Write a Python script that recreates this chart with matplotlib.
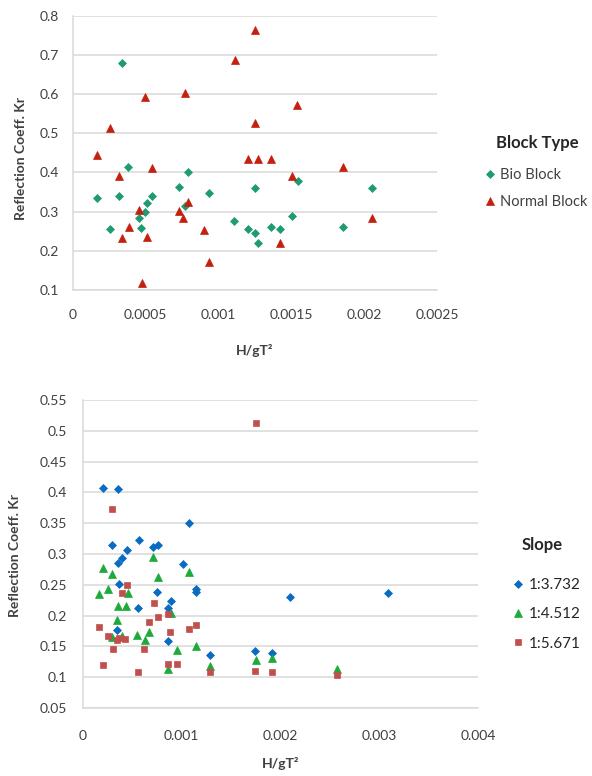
import matplotlib
matplotlib.use("Agg")
import matplotlib.pyplot as plt

plt.rcParams['font.family'] = ['Lato', 'DejaVu Sans']

# Top chart: Block type
bio_x = [0.000335, 0.00038, 0.000789, 0.000163, 0.000316, 0.000541, 0.000511, 0.000731, 0.000935,
         0.001252, 0.000766, 0.000495, 0.000454, 0.000254, 0.000468, 0.001107, 0.0012, 0.001252,
         0.00127, 0.001543, 0.002054, 0.001504, 0.00136, 0.001424, 0.001855]
bio_y = [0.68, 0.415, 0.402, 0.334, 0.341, 0.34, 0.321, 0.364, 0.348,
         0.36, 0.315, 0.298, 0.283, 0.255, 0.257, 0.277, 0.256, 0.245,
         0.219, 0.379, 0.36, 0.289, 0.26, 0.256, 0.262]

normal_x = [0.00125, 0.00111, 0.000495, 0.00077, 0.000254, 0.001247, 0.000163, 0.0012, 0.00127,
            0.00136, 0.000541, 0.000316, 0.000789, 0.000454, 0.000729, 0.000754, 0.000385, 0.000903,
            0.000339, 0.000511, 0.000935, 0.000472, 0.001538, 0.001855, 0.001504, 0.002054, 0.001424]
normal_y = [0.763, 0.687, 0.592, 0.602, 0.514, 0.525, 0.445, 0.434, 0.434,
            0.434, 0.411, 0.392, 0.325, 0.304, 0.302, 0.283, 0.262, 0.252,
            0.232, 0.234, 0.171, 0.117, 0.571, 0.415, 0.392, 0.285, 0.219]

top_xticks = [0, 0.0005, 0.001, 0.0015, 0.002, 0.0025]
top_xlabels = ['0', '0.0005', '0.001', '0.0015', '0.002', '0.0025']
top_yticks = [0.1, 0.2, 0.3, 0.4, 0.5, 0.6, 0.7, 0.8]
top_ylabels = ['0.1', '0.2', '0.3', '0.4', '0.5', '0.6', '0.7', '0.8']

# Bottom chart: slope
s1_x = [0.000208, 0.00036, 0.001077, 0.000293, 0.000572, 0.000444, 0.000707, 0.000764, 0.000394,
        0.00036, 0.001016, 0.000367, 0.000754, 0.001144, 0.00115, 0.000556, 0.000889, 0.000865,
        0.00035, 0.000862, 0.001293, 0.0021, 0.003087, 0.001747, 0.001919]
s1_y = [0.407, 0.406, 0.351, 0.314, 0.322, 0.307, 0.311, 0.314, 0.293,
        0.286, 0.283, 0.251, 0.238, 0.243, 0.239, 0.213, 0.223, 0.212,
        0.176, 0.159, 0.136, 0.23, 0.237, 0.143, 0.139]

s2_x = [0.000712, 0.000208, 0.000293, 0.000764, 0.001077, 0.000259, 0.000165, 0.000455, 0.00036,
        0.000434, 0.00035, 0.000552, 0.000673, 0.000629, 0.000299, 0.000394, 0.000889, 0.000956,
        0.001144, 0.001293, 0.000865, 0.001757, 0.001919, 0.002572]
s2_y = [0.295, 0.277, 0.267, 0.263, 0.271, 0.243, 0.235, 0.236, 0.216,
        0.215, 0.193, 0.169, 0.174, 0.16, 0.166, 0.167, 0.204, 0.144,
        0.151, 0.118, 0.114, 0.128, 0.131, 0.114]

s3_x = [0.000293, 0.001757, 0.000444, 0.0004, 0.00072, 0.000758, 0.000865, 0.000673, 0.000165,
        0.001077, 0.001144, 0.000882, 0.000252, 0.00035, 0.000367, 0.000427, 0.000303, 0.000622,
        0.000208, 0.000556, 0.000865, 0.000956, 0.001293, 0.00174, 0.001916, 0.002572]
s3_y = [0.373, 0.512, 0.25, 0.236, 0.221, 0.198, 0.202, 0.189, 0.181,
        0.179, 0.184, 0.174, 0.167, 0.16, 0.163, 0.162, 0.145, 0.145,
        0.119, 0.109, 0.121, 0.121, 0.109, 0.11, 0.109, 0.104]

bot_xticks = [0, 0.001, 0.002, 0.003, 0.004]
bot_xlabels = ['0', '0.001', '0.002', '0.003', '0.004']
bot_yticks = [0.05, 0.1, 0.15, 0.2, 0.25, 0.3, 0.35, 0.4, 0.45, 0.5, 0.55]
bot_ylabels = ['0.05', '0.1', '0.15', '0.2', '0.25', '0.3', '0.35', '0.4', '0.45', '0.5', '0.55']

W, H = 592, 776
fig = plt.figure(figsize=(W / 100, H / 100), dpi=100)
fig.patch.set_facecolor('white')

grid_col = '#D9D9D9'
txt_col = '#404040'


def style_axes(ax, xticks, xlabels, yticks, ylabels, xpad, ypad):
    ax.set_xticks(xticks)
    ax.set_xticklabels(xlabels)
    ax.set_yticks(yticks)
    ax.set_yticklabels(ylabels)
    ax.set_xlim(xticks[0], xticks[-1])
    ax.set_ylim(yticks[0], yticks[-1])
    ax.grid(axis='y', color=grid_col, linewidth=1.1)
    ax.set_axisbelow(True)
    for side in ['top', 'right']:
        ax.spines[side].set_visible(False)
    for side in ['left', 'bottom']:
        ax.spines[side].set_color(grid_col)
        ax.spines[side].set_linewidth(1.1)
    ax.tick_params(axis='x', length=0, pad=xpad, labelsize=10, labelcolor=txt_col)
    ax.tick_params(axis='y', length=0, pad=ypad, labelsize=10, labelcolor=txt_col)


# --- top chart
ax0 = fig.add_axes([73 / W, 1 - 290 / H, 364 / W, 274.3 / H])
ax0.plot(bio_x, bio_y, linestyle='none', marker='D', ms=4.3, color='#1E9B70',
         mec='#1E9B70', mew=0.5, label='Bio Block')
ax0.plot(normal_x, normal_y, linestyle='none', marker='^', ms=6.0, color='#C4200E',
         mec='#C4200E', mew=0.5, label='Normal Block')
style_axes(ax0, top_xticks, top_xlabels, top_yticks, top_ylabels, 14, 10)
ax0.set_xlabel('H/gT²', fontsize=10, fontweight='bold', color=txt_col, va='center')
ax0.xaxis.set_label_coords(0.5, -0.222)
ax0.set_ylabel('Reflection Coeff. Kr', fontsize=10, fontweight='bold', color=txt_col, va='center')
ax0.yaxis.set_label_coords(-0.143, 0.478)

leg0 = ax0.legend(loc='upper left', bbox_to_anchor=(485 / W, 1 - 168 / H),
                  bbox_transform=fig.transFigure, frameon=False,
                  fontsize=10.5, handlelength=0.7, handletextpad=0.35, labelspacing=0.92,
                  borderpad=0, borderaxespad=0)
for t in leg0.get_texts():
    t.set_color(txt_col)
fig.text(537 / W, 1 - 143 / H, 'Block Type', fontsize=12, fontweight='bold',
         color='#262626', ha='center', va='center')

# --- bottom chart
ax1 = fig.add_axes([82.7 / W, 1 - 708 / H, 395.3 / W, 308 / H])
ax1.plot(s1_x, s1_y, linestyle='none', marker='D', ms=4.0, color='#0A6BC2',
         mec='#0A6BC2', mew=0.5, label='1:3.732')
ax1.plot(s2_x, s2_y, linestyle='none', marker='^', ms=5.8, color='#1DAA3A',
         mec='#1DAA3A', mew=0.5, label='1:4.512')
ax1.plot(s3_x, s3_y, linestyle='none', marker='s', ms=5.0, color='#C0504D',
         mec='#C0504D', mew=0.5, label='1:5.671')
style_axes(ax1, bot_xticks, bot_xlabels, bot_yticks, bot_ylabels, 16, 11.5)
ax1.set_xlabel('H/gT²', fontsize=10, fontweight='bold', color=txt_col, va='center')
ax1.xaxis.set_label_coords(0.5, -0.179)
ax1.set_ylabel('Reflection Coeff. Kr', fontsize=10, fontweight='bold', color=txt_col, va='center')
ax1.yaxis.set_label_coords(-0.171, 0.494)

leg1 = ax1.legend(loc='upper left', bbox_to_anchor=(513 / W, 1 - 578 / H),
                  bbox_transform=fig.transFigure, frameon=False,
                  fontsize=11, handlelength=0.7, handletextpad=0.35, labelspacing=1.0,
                  borderpad=0, borderaxespad=0)
for t in leg1.get_texts():
    t.set_color('#262626')
fig.text(542 / W, 1 - 545 / H, 'Slope', fontsize=12, fontweight='bold',
         color='#262626', ha='center', va='center')

fig.savefig('out.png', dpi=100)
